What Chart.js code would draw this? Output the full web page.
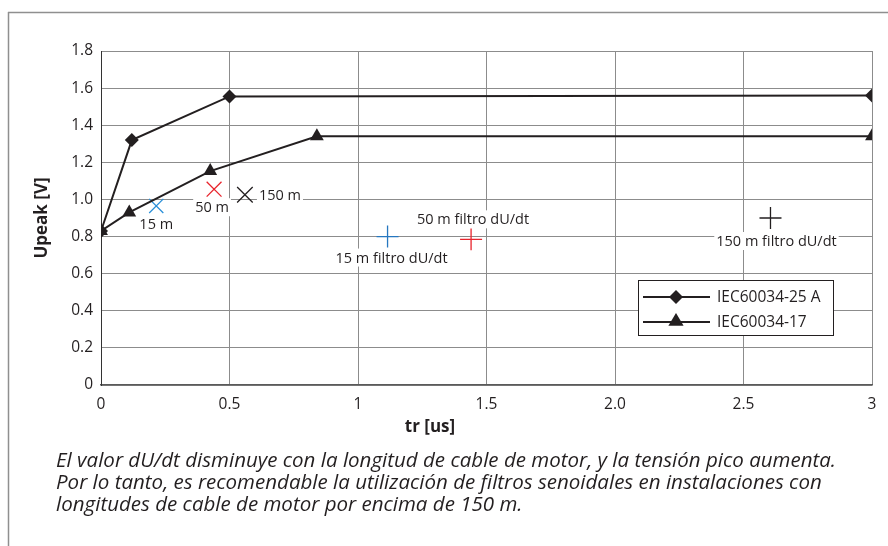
<!DOCTYPE html>
<html>
<head>
<meta charset="utf-8">
<script src="https://cdn.jsdelivr.net/npm/chart.js@4/dist/chart.umd.min.js"></script>
<style>
  html, body { margin: 0; padding: 0; background: #ffffff; }
  #wrap { width: 888px; height: 546px; position: relative; }
</style>
</head>
<body>
<div id="wrap"><canvas id="c" width="888" height="546"></canvas></div>
<script>
// ---- data ----
const xTickLabels = ['0', '0.5', '1', '1.5', '2.0', '2.5', '3'];
const yTickLabels = ['0', '0.2', '0.4', '0.6', '0.8', '1.0', '1.2', '1.4', '1.6', '1.8'];

const iec25Name = 'IEC60034-25 A';
const iec25X = [0, 0.12, 0.5, 3];
const iec25Y = [0.83, 1.32, 1.555, 1.56];

const iec17Name = 'IEC60034-17';
const iec17X = [0, 0.11, 0.425, 0.84, 3];
const iec17Y = [0.83, 0.93, 1.153, 1.34, 1.34];

const measLabels = ['15 m', '50 m', '150 m', '15 m filtro dU/dt', '50 m filtro dU/dt', '150 m filtro dU/dt'];
const measX = [0.215, 0.44, 0.56, 1.115, 1.44, 2.605];
const measY = [0.965, 1.055, 1.025, 0.80, 0.785, 0.90];

// ---- styles ----
const INK = '#231f20';
const GRID = '#8c8c8c';
const measColors = ['#2a8fd8', '#e8242c', INK, '#2677c0', '#e8242c', INK];
const measStyles = ['crossRot', 'crossRot', 'crossRot', 'cross', 'cross', 'cross'];
const measRadius = [10, 10.5, 11, 11, 11, 11];
// label offsets relative to the point (dx, dy, align)
const measLabelPos = [
  [0, 18, 'center'], [-2, 18, 'center'], [14, 0, 'left'],
  [4, 21, 'center'], [2, -20, 'center'], [6, 23, 'center']
];
const FONT = '"Open Sans", "Noto Sans", sans-serif';

function pts(xs, ys) { return xs.map((x, i) => ({ x: x, y: ys[i] })); }

function drawDiamond(ctx, x, y, r) {
  ctx.beginPath();
  ctx.moveTo(x, y - r); ctx.lineTo(x + r, y); ctx.lineTo(x, y + r); ctx.lineTo(x - r, y);
  ctx.closePath(); ctx.fill();
}
function drawTriangle(ctx, x, y, r) {
  ctx.beginPath();
  ctx.moveTo(x, y - r); ctx.lineTo(x + r * 0.95, y + r * 0.6); ctx.lineTo(x - r * 0.95, y + r * 0.6);
  ctx.closePath(); ctx.fill();
}

const decor = {
  id: 'decor',
  beforeDraw(chart) {
    const ctx = chart.ctx;
    ctx.save();
    ctx.fillStyle = '#fff';
    ctx.fillRect(0, 0, chart.width, chart.height);
    ctx.strokeStyle = '#8f8f8f';
    ctx.lineWidth = 1.5;
    ctx.beginPath();
    ctx.moveTo(8, 12.5); ctx.lineTo(888, 12.5);
    ctx.moveTo(8.5, 12); ctx.lineTo(8.5, 546);
    ctx.stroke();
    ctx.restore();
  },
  afterDatasetsDraw(chart) {
    const ctx = chart.ctx;
    const xs = chart.scales.x, ys = chart.scales.y;
    ctx.save();
    // point labels with white background
    ctx.font = '14.5px ' + FONT;
    ctx.textBaseline = 'middle';
    measLabels.forEach((t, i) => {
      const px = xs.getPixelForValue(measX[i]) + measLabelPos[i][0];
      const py = ys.getPixelForValue(measY[i]) + measLabelPos[i][1];
      const al = measLabelPos[i][2];
      const w = ctx.measureText(t).width;
      const left = al === 'center' ? px - w / 2 : px;
      ctx.fillStyle = '#fff';
      ctx.fillRect(left - 2, py - 9, w + 4, 18);
      ctx.fillStyle = INK;
      ctx.textAlign = 'left';
      ctx.fillText(t, left, py + 1);
    });
    // legend
    const lx = 638, ly = 280, lw = 195, lh = 55;
    ctx.fillStyle = '#fff';
    ctx.fillRect(lx, ly, lw, lh);
    ctx.strokeStyle = INK; ctx.lineWidth = 1;
    ctx.strokeRect(lx + 0.5, ly + 0.5, lw, lh);
    const rows = [[iec25Name, 'd', ly + 17], [iec17Name, 't', ly + 42]];
    rows.forEach(r => {
      ctx.strokeStyle = INK; ctx.lineWidth = 2;
      ctx.beginPath(); ctx.moveTo(lx + 5, r[2]); ctx.lineTo(lx + 72, r[2]); ctx.stroke();
      ctx.fillStyle = INK;
      if (r[1] === 'd') drawDiamond(ctx, lx + 38, r[2], 7); else drawTriangle(ctx, lx + 38, r[2] - 1, 8);
      ctx.font = '15.5px ' + FONT;
      ctx.textAlign = 'left'; ctx.textBaseline = 'middle';
      ctx.fillText(r[0], lx + 79, r[2] + 1);
    });
    // axis titles
    ctx.fillStyle = INK;
    ctx.font = 'bold 17px ' + FONT;
    ctx.textAlign = 'center'; ctx.textBaseline = 'middle';
    ctx.fillText('tr [us]', 430, 427);
    ctx.save();
    ctx.translate(42, 218); ctx.rotate(-Math.PI / 2);
    ctx.fillText('Upeak [V]', 0, 0);
    ctx.restore();
    // caption
    const cap = [
      'El valor dU/dt disminuye con la longitud de cable de motor, y la tensión pico aumenta.',
      'Por lo tanto, es recomendable la utilización de filtros senoidales en instalaciones con',
      'longitudes de cable de motor por encima de 150 m.'
    ];
    ctx.font = 'italic 19.5px ' + FONT;
    ctx.textAlign = 'left'; ctx.textBaseline = 'middle';
    const w0 = ctx.measureText(cap[0]).width;
    const sx = 780 / w0;
    cap.forEach((t, i) => {
      ctx.save();
      ctx.translate(56, 461 + i * 22);
      ctx.scale(sx, 1);
      ctx.fillText(t, 0, 0);
      ctx.restore();
    });
    ctx.restore();
  }
};

new Chart(document.getElementById('c'), {
  type: 'scatter',
  data: {
    datasets: [
      {
        label: iec25Name, data: pts(iec25X, iec25Y), showLine: true,
        borderColor: INK, backgroundColor: INK, borderWidth: 2,
        pointStyle: 'rectRot', pointRadius: 7, pointBorderWidth: 0, pointBackgroundColor: INK
      },
      {
        label: iec17Name, data: pts(iec17X, iec17Y), showLine: true,
        borderColor: INK, backgroundColor: INK, borderWidth: 2,
        pointStyle: 'triangle', pointRadius: 8, pointBorderWidth: 0, pointBackgroundColor: INK
      },
      {
        label: 'medidas', data: pts(measX, measY), showLine: false,
        pointStyle: measStyles, pointRadius: measRadius, pointBorderColor: measColors,
        pointBackgroundColor: measColors, pointBorderWidth: 1.3
      }
    ]
  },
  options: {
    responsive: false, animation: false, devicePixelRatio: 1,
    layout: { padding: { left: 0, top: 51, right: 16, bottom: 0 } },
    plugins: { legend: { display: false }, tooltip: { enabled: false } },
    elements: { line: { tension: 0 } },
    scales: {
      x: {
        type: 'linear', min: 0, max: 3,
        afterFit(s) { s.height = 161; },
        ticks: {
          stepSize: 0.5, padding: 10, color: INK, font: { family: FONT, size: 15.5 },
          callback: (v, i) => xTickLabels[i]
        },
        grid: { color: GRID, lineWidth: 1, drawTicks: false },
        border: { display: true, color: '#5a5a5a', width: 1.5 }
      },
      y: {
        type: 'linear', min: 0, max: 1.8,
        afterFit(s) { s.width = 101; },
        ticks: {
          stepSize: 0.2, padding: 8, color: INK, font: { family: FONT, size: 15.5 },
          callback: (v, i) => yTickLabels[i]
        },
        grid: { color: GRID, lineWidth: 1, drawTicks: false },
        border: { display: true, color: '#333', width: 1 }
      }
    }
  },
  plugins: [decor]
});
</script>
</body>
</html>
